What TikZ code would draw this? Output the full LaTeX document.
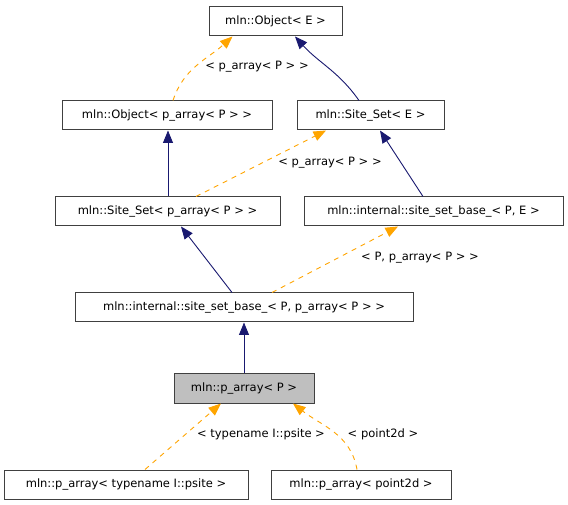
\documentclass[tikz,border=0pt]{standalone}
\usepackage{fontspec}
\setmainfont{DejaVu Sans}
\usetikzlibrary{arrows.meta}
\definecolor{navy}{HTML}{191970}
\definecolor{dorange}{HTML}{FFA500}
\definecolor{selgray}{HTML}{BFBFBF}
\begin{document}
\begin{tikzpicture}[x=1pt,y=1pt,
  cls/.style={draw=black!75,line width=1pt,fill=white,minimum height=29pt,inner sep=0pt,font=\fontsize{11.5}{13}\selectfont},
  inh/.style={navy,line width=0.9pt,-{Triangle[length=12.5pt,width=10pt]}},
  tpl/.style={dorange,line width=0.9pt,dash pattern=on 5pt off 5pt,-{Triangle[length=12.5pt,width=10pt]}},
  lbl/.style={font=\fontsize{11.5}{13}\selectfont,inner sep=0pt}]
\useasboundingbox (0,0) rectangle (568,504);
\fill[white] (0,0) rectangle (568,504);
% nodes
\node[cls,minimum width=133pt] (oE) at (275.5,482.5) {mln::Object< E >};
\node[cls,minimum width=210pt] (oP) at (167,388.5) {mln::Object< p\_array< P > >};
\node[cls,minimum width=147pt] (sE) at (370.5,388.5) {mln::Site\_Set< E >};
\node[cls,minimum width=225pt] (sP) at (167.5,292.5) {mln::Site\_Set< p\_array< P > >};
\node[cls,minimum width=259pt] (bE) at (433.5,292.5) {mln::internal::site\_set\_base\_< P, E >};
\node[cls,minimum width=338pt] (bP) at (244,196.5) {mln::internal::site\_set\_base\_< P, p\_array< P > >};
\node[cls,minimum width=140pt,fill=selgray] (pP) at (244,115.5) {mln::p\_array< P >};
\node[cls,minimum width=244pt] (pT) at (126,19.5) {mln::p\_array< typename I::psite >};
\node[cls,minimum width=180pt] (p2) at (361,19.5) {mln::p\_array< point2d >};
% edges
\draw[tpl] ([xshift=6pt]oP.north) to[out=72,in=222] ([xshift=-43pt]oE.south);
\draw[inh] ([xshift=-11.5pt]sE.north) to[out=125,in=-48] ([xshift=19.5pt]oE.south);
\draw[inh] ([xshift=0.5pt]sP.north) -- ([xshift=1pt]oP.south);
\draw[tpl] ([xshift=28.5pt]sP.north) -- ([xshift=-44.5pt]sE.south);
\draw[inh] ([xshift=-10.5pt]bE.north) -- ([xshift=9.5pt]sE.south);
\draw[inh] ([xshift=-12pt]bP.north) -- ([xshift=13.5pt]sP.south);
\draw[tpl] ([xshift=28pt]bP.north) -- ([xshift=-35.5pt]bE.south);
\draw[inh] (pP.north) -- (bP.south);
\draw[tpl] ([xshift=19pt]pT.north) -- ([xshift=-23pt]pP.south);
\draw[tpl] ([xshift=-4pt]p2.north) to[out=100,in=-38] ([xshift=49pt]pP.south);
% labels
\node[lbl] (l1) at (257,437) {< p\_array< P > >};
\node[lbl] (l4) at (330,341) {< p\_array< P > >};
\node[lbl] (l7) at (420,246) {< P, p\_array< P > >};
\node[lbl] (l9) at (261,70) {< typename I::psite >};
\node[lbl] (l10) at (383,70) {< point2d >};
\end{tikzpicture}
\end{document}
